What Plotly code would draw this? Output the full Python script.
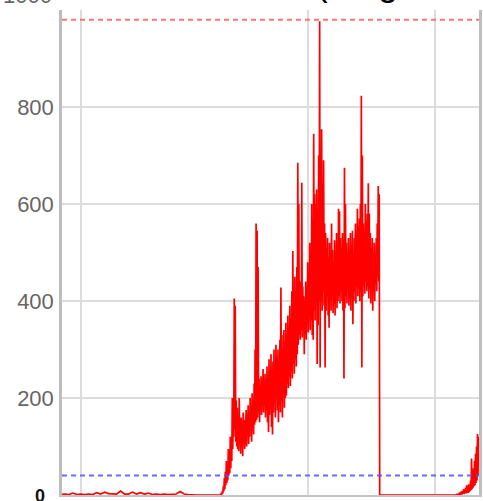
import numpy as np
import plotly.graph_objects as go

# ---- data ----
# quiet period, one sample every 4 time units starting at t=0
quiet_vals = [1, 2, 1, 4, 1, 2, 1, 2, 1, 5, 2, 6, 3, 2, 2, 8, 2, 2, 6, 2,
              5, 2, 4, 1, 2, 1, 2, 1, 1, 2, 7, 2, 1, 0, 0, 0, 0, 0, 0, 0, 0]

# busy period, two samples per time unit starting at t=161
burst_vals = [
    0, 4, 1, 8, 3, 18, 8, 35, 12, 48, 20, 70, 25, 62, 30, 95, 40, 85, 45, 120,
    55, 110, 70, 200, 95, 175, 120, 405, 135, 390, 110, 195, 100, 180, 95, 165, 90, 200, 105, 150,
    85, 160, 110, 145, 80, 170, 120, 155, 95, 140, 125, 175, 100, 160, 130, 185, 105, 165, 120, 200,
    135, 175, 110, 210, 140, 190, 125, 230, 145, 300, 150, 560, 155, 545, 160, 470, 170, 240, 150, 225,
    180, 245, 165, 220, 185, 260, 170, 235, 195, 250, 160, 225, 175, 265, 150, 240, 130, 280, 165, 255,
    180, 290, 140, 260, 125, 275, 170, 300, 190, 265, 160, 310, 200, 285, 175, 300, 150, 270, 185, 320,
    170, 428, 195, 330, 160, 300, 210, 340, 180, 315, 200, 355, 205, 330, 230, 370, 220, 345, 245, 390,
    225, 360, 255, 420, 240, 503, 270, 400, 250, 450, 280, 420, 265, 470, 290, 685, 310, 600, 330, 440,
    320, 420, 340, 644, 325, 430, 350, 410, 290, 400, 345, 440, 320, 415, 355, 480, 335, 430, 365, 520,
    340, 470, 360, 600, 330, 560, 320, 745, 380, 620, 360, 600, 400, 630, 270, 590, 350, 700, 400, 977,
    263, 680, 400, 754, 380, 640, 420, 690, 390, 560, 263, 540, 380, 510, 410, 530, 370, 490, 345, 520,
    400, 500, 380, 560, 410, 505, 375, 480, 395, 525, 370, 500, 420, 540, 385, 510, 400, 590, 410, 585,
    395, 530, 420, 510, 400, 540, 380, 525, 240, 675, 385, 600, 410, 520, 395, 500, 420, 530, 390, 505,
    405, 540, 380, 515, 410, 545, 352, 500, 400, 530, 420, 560, 395, 540, 430, 590, 410, 555, 425, 570,
    400, 600, 420, 823, 263, 700, 410, 560, 430, 545, 415, 600, 440, 565, 420, 580, 430, 643, 405, 580,
    425, 540, 395, 510, 430, 530, 380, 500, 420, 520, 400, 495, 435, 530, 420, 560, 450, 637, 440, 620,
]

# idle period (start/end times and value)
idle_t = [321.0, 397.0]
idle_vals = [0, 0]

# tail, two samples per time unit starting at t=397
tail_vals = [0, 0, 0, 2, 0, 1, 0, 3, 1, 5, 0, 4, 2, 8, 1, 6, 3, 12, 2, 9,
             4, 15, 3, 20, 5, 14, 4, 22, 6, 18, 8, 30, 10, 75, 12, 40, 15, 55, 18, 70,
             20, 85, 25, 100, 30, 126, 40, 120]

upper_limit = 980
lower_limit = 40
x_grid = [20, 249, 377]
y_ticks = [0, 200, 400, 600, 800, 1000]
y_labels = ["", "200", "400", "600", "800", ""]

quiet_t = np.arange(len(quiet_vals)) * 4.0
burst_t = 161 + np.arange(len(burst_vals)) * 0.5
tail_t = 397 + np.arange(len(tail_vals)) * 0.5

t = np.concatenate([quiet_t, burst_t, idle_t, tail_t])
v = np.concatenate([quiet_vals, burst_vals, idle_vals, tail_vals])

fig = go.Figure()
fig.add_trace(go.Scatter(x=t, y=v, mode="lines",
                         line=dict(color="#ff0000", width=1.7),
                         hoverinfo="skip", showlegend=False))

fig.add_shape(type="line", xref="paper", x0=0, x1=1, yref="y",
              y0=upper_limit, y1=upper_limit,
              line=dict(color="rgba(255,90,90,0.85)", width=2, dash="5px,4px"),
              layer="above")
fig.add_shape(type="line", xref="paper", x0=0, x1=1, yref="y",
              y0=lower_limit, y1=lower_limit,
              line=dict(color="rgba(80,80,255,0.85)", width=2, dash="5px,4px"),
              layer="above")

font = "Liberation Sans, Arial, sans-serif"
fig.add_annotation(text="1000", xref="paper", yref="paper", x=0, y=1,
                   xanchor="right", yanchor="middle", xshift=-8, yshift=15,
                   showarrow=False, font=dict(family=font, size=22, color="#666"))
fig.add_annotation(text="<b>0</b>", xref="paper", yref="y", x=0, y=0,
                   xanchor="right", yanchor="middle", xshift=-15, yshift=-1,
                   showarrow=False, font=dict(family=font, size=18, color="#111"))
fig.add_annotation(text="(range", xref="paper", yref="paper", x=(316 - 62) / 420, y=1,
                   xanchor="left", yanchor="bottom", yshift=5,
                   showarrow=False, font=dict(family=font, size=35, color="#000"))

fig.update_layout(
    width=483, height=501,
    margin=dict(l=62, r=1, t=10, b=6),
    paper_bgcolor="white", plot_bgcolor="white",
    showlegend=False,
)
fig.update_xaxes(range=[1, 421], tickvals=x_grid, showticklabels=False,
                 showgrid=True, gridcolor="#dcdcdc", gridwidth=1.5,
                 showline=True, linecolor="#c4c4c4", linewidth=2,
                 zeroline=False, ticks="")
fig.update_yaxes(range=[0, 1000], tickvals=y_ticks, ticktext=y_labels,
                 showgrid=True, gridcolor="#dcdcdc", gridwidth=1.5,
                 showline=True, linecolor="#bdbdbd", linewidth=2.5, mirror=True,
                 zeroline=False, ticks="", ticklabelstandoff=1,
                 tickfont=dict(family=font, size=22, color="#666"))

fig.write_html("out.html", config={"displayModeBar": False},
               post_script="document.body.style.margin='0';document.body.style.overflow='hidden';")
